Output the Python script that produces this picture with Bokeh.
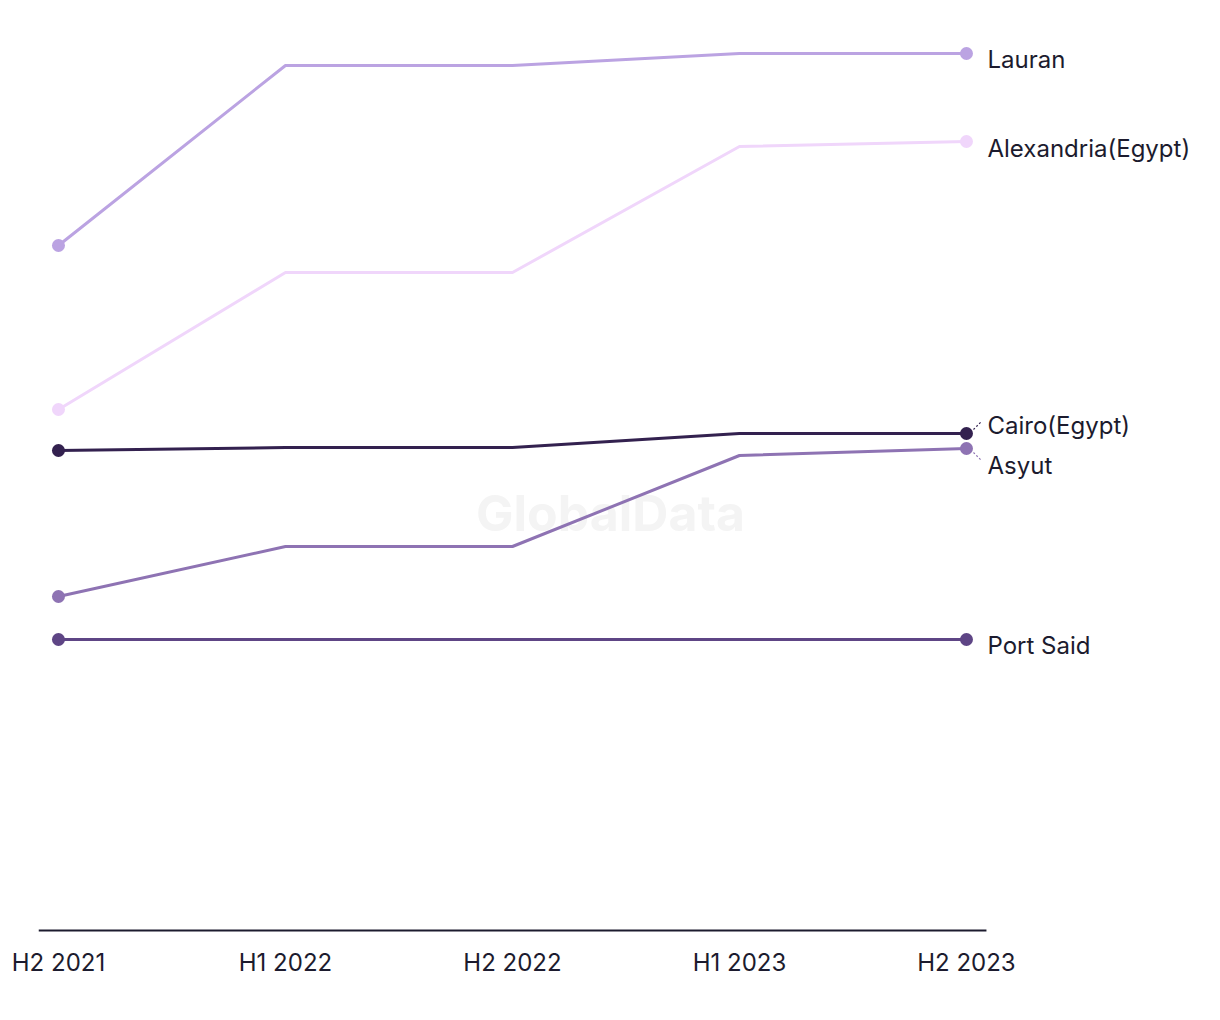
from bokeh.plotting import figure
from bokeh.models import Range1d, FixedTicker, Label
from bokeh.core.properties import value
from bokeh.embed import file_html
from bokeh.resources import INLINE

periods = ["H2 2021", "H1 2022", "H2 2022", "H1 2023", "H2 2023"]
series_names = ["Lauran", "Alexandria(Egypt)", "Cairo(Egypt)", "Asyut", "Port Said"]
lauran = [68.5, 86.5, 86.5, 87.7, 87.7]
alexandria = [52.1, 65.8, 65.8, 78.4, 78.9]
cairo = [48.0, 48.3, 48.3, 49.7, 49.7]
asyut = [33.4, 38.4, 38.4, 47.5, 48.2]
port_said = [29.1, 29.1, 29.1, 29.1, 29.1]

values_list = [lauran, alexandria, cairo, asyut, port_said]
colors = ["#bba3e2", "#f0d6fb", "#33214f", "#8e73b3", "#5e4585"]
label_offsets = [6, 7, -8, 17, 6]  # pixel offsets of end labels

FONT = "Inter"
TEXT = "#1c1b2e"

x = list(range(len(periods)))
PAD = 0.088
X_RIGHT = -PAD + 1162 / 227.0

p = figure(width=1200, height=1000, output_backend="svg", toolbar_location=None,
           x_range=Range1d(-PAD, X_RIGHT), y_range=Range1d(-0.3, 91),
           min_border_left=38, min_border_right=0, min_border_top=20, min_border_bottom=67)
p.outline_line_color = None
p.grid.visible = False
p.yaxis.visible = False
p.background_fill_color = "white"

# watermark (glyph drawn first, beneath the lines)
p.text(x=[2.432], y=[41.8], text=["GlobalData"], text_align="center", text_baseline="middle",
       text_font=value(FONT), text_font_size="50px", text_font_style="bold",
       text_color="#f4f4f4")

# baseline (axis line)
p.segment(x0=[-PAD], y0=[0], x1=[len(periods) - 1 + PAD], y1=[0],
          line_color="#1c1b2e", line_width=2)

for vals, col in zip(values_list[::-1], colors[::-1]):
    p.line(x, vals, line_color=col, line_width=3)
    p.scatter([x[0], x[-1]], [vals[0], vals[-1]], size=13, fill_color=col, line_color=None)

# end labels
for name, vals, off in zip(series_names, values_list, label_offsets):
    p.add_layout(Label(x=4, y=vals[-1], x_offset=21, y_offset=-off, text=name,
                       text_align="left", text_baseline="middle", text_font=FONT,
                       text_font_size="24px", text_color=TEXT))

# connector ticks for Cairo and Asyut
px = 1 / 227.0
py = 0.1
p.segment(x0=[4 + 7 * px], y0=[cairo[-1] + 4 * py], x1=[4 + 15 * px], y1=[cairo[-1] + 12 * py],
          line_color="#33214f", line_width=1.2, line_dash="2 2")
p.segment(x0=[4 + 7 * px], y0=[asyut[-1] - 4 * py], x1=[4 + 15 * px], y1=[asyut[-1] - 12 * py],
          line_color="#8e73b3", line_width=1.2, line_dash="2 2")

ax = p.xaxis[0]
ax.ticker = FixedTicker(ticks=x)
ax.major_label_overrides = {i: s for i, s in enumerate(periods)}
ax.axis_line_color = None
ax.major_tick_line_color = None
ax.minor_tick_line_color = None
ax.major_label_text_font = FONT
ax.major_label_text_font_size = "24px"
ax.major_label_text_color = TEXT
ax.major_label_standoff = 8

open("out.html", "w").write(file_html(p, INLINE))
